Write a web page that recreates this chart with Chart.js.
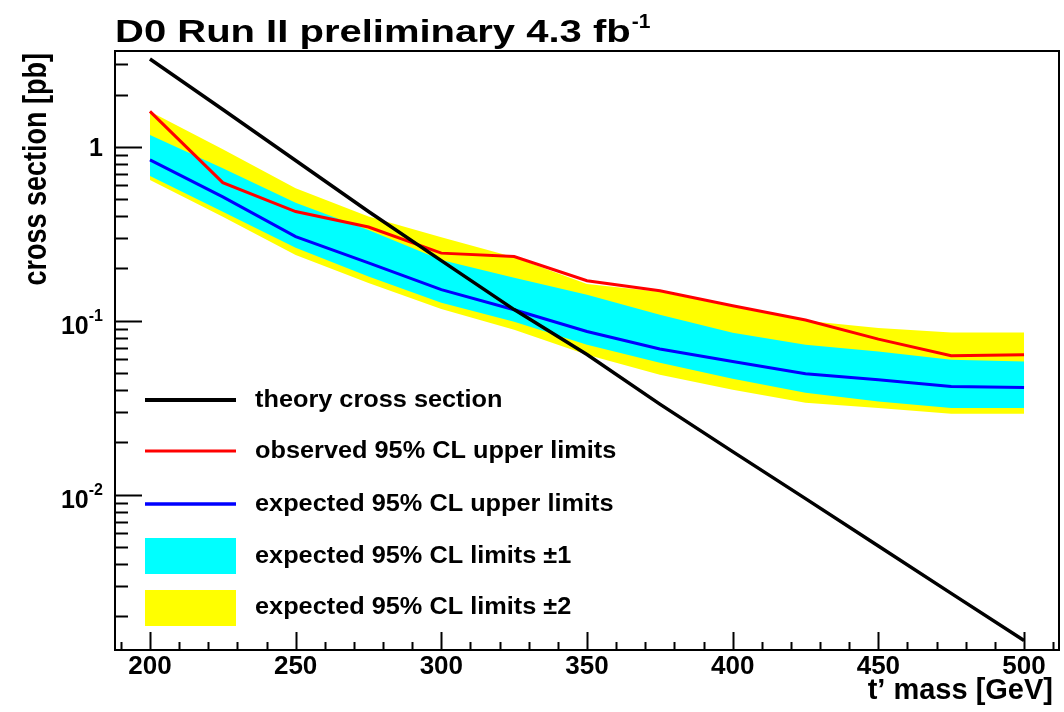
<!DOCTYPE html>
<html>
<head>
<meta charset="utf-8">
<script src="https://cdn.jsdelivr.net/npm/chart.js@4.4.1/dist/chart.umd.min.js"></script>
<style>
  body { margin: 0; background: #fff; }
</style>
</head>
<body>
<canvas id="limitChart" width="1064" height="712"></canvas>
<script>
// t' mass points [GeV] and cross sections [pb]
const masses   = [200, 225, 250, 275, 300, 325, 350, 375, 400, 425, 450, 475, 500];
const theory   = [3.2, 1.64, 0.835, 0.425, 0.222, 0.116, 0.064, 0.0332, 0.0177, 0.0095, 0.00507, 0.00271, 0.00145];
const observed = [1.6, 0.623, 0.425, 0.346, 0.245, 0.234, 0.17, 0.149, 0.122, 0.101, 0.0785, 0.063, 0.0638];
const expected = [0.842, 0.516, 0.305, 0.2155, 0.151, 0.1157, 0.0868, 0.0688, 0.0584, 0.0496, 0.0458, 0.0419, 0.0414];
const plus1    = [1.172, 0.753, 0.477, 0.333, 0.224, 0.1767, 0.141, 0.1083, 0.0853, 0.0728, 0.0666, 0.0597, 0.0584];
const minus1   = [0.681, 0.424, 0.263, 0.18, 0.127, 0.0987, 0.0728, 0.0574, 0.0464, 0.0386, 0.0344, 0.0315, 0.0315];
const plus2    = [1.596, 0.969, 0.579, 0.398, 0.302, 0.232, 0.163, 0.147, 0.1204, 0.1, 0.0908, 0.0857, 0.0857];
const minus2   = [0.646, 0.396, 0.239, 0.165, 0.117, 0.0888, 0.0638, 0.049, 0.0401, 0.0338, 0.0315, 0.0292, 0.0292];

const xTickValues = [200, 250, 300, 350, 400, 450, 500];
const yLabelValues = [1, 0.1, 0.01];
const yLabelExps = ['', '-1', '-2'];

const legendLabels = [
  'theory cross section',
  'observed 95% CL upper limits',
  'expected 95% CL upper limits',
  'expected 95% CL limits \u00b11',
  'expected 95% CL limits \u00b12'
];

const FONT = '"Liberation Sans", Arial, Helvetica, sans-serif';
const pts = (ys) => masses.map((m, i) => ({x: m, y: ys[i]}));

const stretchText = (ctx, text, x, y, sx, align) => {
  ctx.save();
  ctx.translate(x, y);
  ctx.scale(sx, 1);
  ctx.textAlign = align;
  ctx.fillText(text, 0, 0);
  ctx.restore();
};

const rootFrame = {
  id: 'rootFrame',
  afterDraw(chart) {
    const {ctx, chartArea: a} = chart;
    const xs = chart.scales.x, ys = chart.scales.y;
    ctx.save();
    ctx.strokeStyle = '#000';
    ctx.fillStyle = '#000';
    ctx.lineWidth = 2;
    ctx.strokeRect(a.left, a.top, a.right - a.left, a.bottom - a.top);

    // y ticks, inside the frame
    for (let d = -3; d <= 0; d++) {
      for (let k = 1; k <= 9; k++) {
        const v = k * Math.pow(10, d);
        if (v < ys.min || v > ys.max) continue;
        const py = Math.round(ys.getPixelForValue(v)) + 0.5;
        const len = k === 1 ? 27 : 13;
        ctx.beginPath();
        ctx.moveTo(a.left, py);
        ctx.lineTo(a.left + len, py);
        ctx.stroke();
      }
    }
    // x ticks
    for (let v = 190; v <= 510; v += 10) {
      const px = Math.round(xs.getPixelForValue(v)) + 0.5;
      const len = v % 50 === 0 ? 18 : 8;
      ctx.beginPath();
      ctx.moveTo(px, a.bottom);
      ctx.lineTo(px, a.bottom - len);
      ctx.stroke();
    }

    // x tick labels
    ctx.font = 'bold 26px ' + FONT;
    ctx.textAlign = 'center';
    ctx.textBaseline = 'alphabetic';
    xTickValues.forEach(v => {
      ctx.fillText(String(v), xs.getPixelForValue(v), 674);
    });

    // y tick labels with exponents
    yLabelValues.forEach((v, i) => {
      const py = ys.getPixelForValue(v);
      const right = 103;
      const exp = yLabelExps[i];
      if (exp) {
        ctx.font = 'bold 16px ' + FONT;
        const ew = ctx.measureText(exp).width;
        ctx.textAlign = 'left';
        ctx.fillText(exp, right - ew, py);
        ctx.font = 'bold 25px ' + FONT;
        ctx.textAlign = 'right';
        ctx.fillText('10', right - ew, py + 13);
      } else {
        ctx.font = 'bold 25px ' + FONT;
        ctx.textAlign = 'right';
        ctx.fillText('1', right, py + 9);
      }
    });

    // axis titles
    ctx.font = 'bold 29px ' + FONT;
    ctx.textAlign = 'right';
    ctx.fillText('t\u2019 mass [GeV]', 1053, 699);

    ctx.save();
    ctx.translate(46, 53);
    ctx.rotate(-Math.PI / 2);
    ctx.scale(1, 1.25);
    ctx.font = 'bold 27px ' + FONT;
    ctx.textAlign = 'right';
    ctx.fillText('cross section [pb]', 0, 0);
    ctx.restore();

    // main title
    ctx.font = 'bold 32px ' + FONT;
    const title = 'D0 Run II preliminary 4.3 fb';
    stretchText(ctx, title, 115, 42, 1.25, 'left');
    const tw = ctx.measureText(title).width * 1.25;
    ctx.font = 'bold 20px ' + FONT;
    stretchText(ctx, '-1', 115 + tw + 1, 28, 1.05, 'left');

    // legend
    const lineColors = ['#000000', '#ff0000', '#0000ff'];
    const lineY = [400, 451, 504];
    const lineW = [4, 3, 3.5];
    lineColors.forEach((c, i) => {
      ctx.strokeStyle = c;
      ctx.lineWidth = lineW[i];
      ctx.beginPath();
      ctx.moveTo(145, lineY[i]);
      ctx.lineTo(236, lineY[i]);
      ctx.stroke();
    });
    ctx.fillStyle = '#00ffff';
    ctx.fillRect(145, 538, 91, 36);
    ctx.fillStyle = '#ffff00';
    ctx.fillRect(145, 590, 91, 36);

    ctx.fillStyle = '#000';
    ctx.font = 'bold 23px ' + FONT;
    const textBase = [407, 458, 511, 563, 614];
    legendLabels.forEach((t, i) => stretchText(ctx, t, 255, textBase[i], 1.1, 'left'));
    ctx.restore();
  }
};

const chartData = {
  datasets: [
    {label: 'theory', data: pts(theory), borderColor: '#000000', borderWidth: 3.5, fill: false, order: 0},
    {label: 'observed', data: pts(observed), borderColor: '#ff0000', borderWidth: 3, fill: false, order: 1},
    {label: 'expected', data: pts(expected), borderColor: '#0000ff', borderWidth: 3, fill: false, order: 2},
    {label: 'plus1', data: pts(plus1), borderColor: 'rgba(0,0,0,0)', backgroundColor: '#00ffff', fill: 4, order: 3},
    {label: 'minus1', data: pts(minus1), borderColor: 'rgba(0,0,0,0)', fill: false, order: 4},
    {label: 'plus2', data: pts(plus2), borderColor: 'rgba(0,0,0,0)', backgroundColor: '#ffff00', fill: 6, order: 5},
    {label: 'minus2', data: pts(minus2), borderColor: 'rgba(0,0,0,0)', fill: false, order: 6}
  ]
};

new Chart(document.getElementById('limitChart').getContext('2d'), {
  type: 'line',
  data: chartData,
  options: {
    responsive: false,
    animation: false,
    layout: {padding: {left: 115, top: 51, right: 5, bottom: 62}},
    elements: {point: {radius: 0}, line: {tension: 0}},
    plugins: {legend: {display: false}, tooltip: {enabled: false}},
    scales: {
      x: {type: 'linear', min: 188, max: 512, display: false},
      y: {type: 'logarithmic', min: 0.00128, max: 3.56, display: false}
    }
  },
  plugins: [rootFrame]
});
</script>
</body>
</html>
